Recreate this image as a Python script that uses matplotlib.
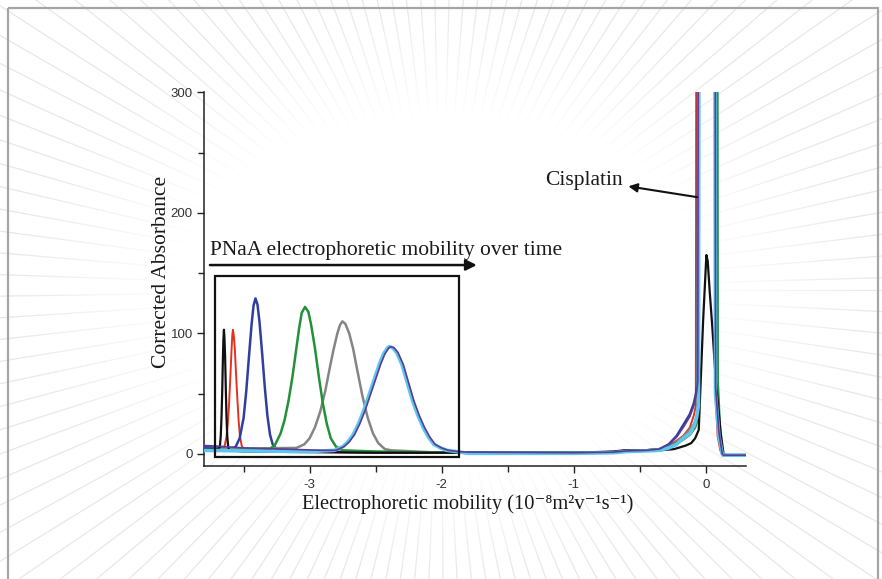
import numpy as np
import matplotlib
matplotlib.use("Agg")
import matplotlib.pyplot as plt
from matplotlib.patches import Rectangle

# ---------------- data ----------------
black_x = [-3.80, -3.72, -3.69, -3.68, -3.673, -3.667, -3.662, -3.657, -3.653, -3.649, -3.645, -3.640,
           -3.635, -3.630, -3.624, -3.617, -3.61, -3.50,
           -3.00, -2.50, -2.00, -1.50, -1.00, -0.70, -0.62, -0.50, -0.35, -0.24, -0.15, -0.11,
           -0.08, -0.053, -0.04, -0.02, 0.005, 0.015, 0.03, 0.05, 0.076, 0.10, 0.114, 0.135, 0.16, 0.305]
black_y = [4, 4, 4, 6, 15, 32, 52, 78, 95, 103, 96, 80,
           55, 32, 15, 6, 3, 2,
           1.5, 1, 1, 1, 1, 2, 3, 3, 3, 4, 7, 9,
           13, 20, 55, 110, 165, 160, 135, 105, 61, 33, 17, 0, -1, -1]

red_x = [-3.80, -3.70, -3.66, -3.645, -3.63, -3.62, -3.61, -3.60, -3.592, -3.586, -3.581, -3.575,
         -3.567, -3.558, -3.548, -3.538, -3.528, -3.515, -3.50, -3.48,
         -3.20, -2.50, -2.00, -1.00, -0.70, -0.60, -0.45, -0.35, -0.28, -0.22, -0.17,
         -0.12, -0.09, -0.075, -0.072, 0.070, 0.074, 0.09, 0.11, 0.13, 0.305]
red_y = [5, 4, 3, 6, 14, 25, 42, 65, 85, 98, 103, 99,
         88, 68, 47, 28, 15, 7, 4, 3,
         2, 1, 1, 1, 1.5, 2.5, 3, 4, 7, 11, 15,
         22, 32, 40, 330, 330, 50, 15, 3, -1, -1]

blue_x = [-3.80, -3.70, -3.60, -3.56, -3.53, -3.50, -3.48, -3.46, -3.44, -3.425, -3.41, -3.395,
          -3.38, -3.36, -3.34, -3.32, -3.30, -3.28, -3.25, -3.22,
          -3.00, -2.50, -2.00, -1.00, -0.70, -0.60, -0.45, -0.35, -0.28, -0.22, -0.17,
          -0.12, -0.09, -0.07, -0.062, -0.058, 0.073, 0.076, 0.10, 0.125, 0.135, 0.305]
blue_y = [6, 5, 4, 6, 13, 30, 52, 80, 107, 123, 129, 124,
          110, 84, 56, 32, 16, 8, 4, 3,
          2, 1.5, 1, 1, 1.5, 2.5, 3, 4, 8, 15, 24,
          33, 42, 52, 62, 330, 330, 60, 20, 0, -1, -1]

green_x = [-3.80, -3.60, -3.30, -3.26, -3.22, -3.19, -3.16, -3.13, -3.10, -3.08, -3.06, -3.035,
           -3.01, -2.99, -2.96, -2.93, -2.90, -2.87, -2.84, -2.80, -2.75,
           -2.50, -2.00, -1.00, -0.70, -0.60, -0.45, -0.35, -0.28, -0.22,
           -0.17, -0.12, -0.08, -0.058, -0.055, 0.088, 0.091, 0.11, 0.13, 0.305]
green_y = [3, 3, 4, 8, 17, 28, 44, 64, 88, 104, 117, 122,
           118, 108, 88, 64, 42, 25, 13, 6, 3,
           2, 1, 1, 1.5, 2.5, 3, 4, 6, 9,
           12, 16, 22, 30, 330, 330, 60, 15, -1, -1]

gray_x = [-3.80, -3.50, -3.10, -3.04, -3.00, -2.96, -2.92, -2.88, -2.85, -2.82, -2.79, -2.77,
          -2.752, -2.73, -2.70, -2.67, -2.64, -2.60, -2.56, -2.52, -2.48, -2.43, -2.38,
          -2.00, -1.00, -0.70, -0.60, -0.45, -0.35,
          -0.28, -0.22, -0.17, -0.12, -0.08, -0.058, -0.055, 0.080, 0.083, 0.11, 0.13, 0.305]
gray_y = [4, 4.5, 5, 8, 13, 22, 35, 53, 70, 86, 100, 107,
          110, 108, 100, 87, 70, 48, 30, 17, 9, 4, 3,
          1, 1, 1.5, 2.5, 3, 4,
          6, 10, 14, 20, 26, 34, 330, 330, 50, 12, -1, -1]

purple_x = [-3.80, -3.70, -3.50, -3.20, -2.90, -2.80, -2.74, -2.70, -2.66, -2.62, -2.58, -2.54,
            -2.50, -2.46, -2.43, -2.40, -2.386, -2.36, -2.33, -2.29, -2.25, -2.21, -2.17, -2.13,
            -2.09, -2.05, -2.00, -1.95, -1.88, -1.80, -1.00, -0.70,
            -0.60, -0.45, -0.35, -0.28, -0.22, -0.17, -0.12, -0.09, -0.07, -0.06, -0.057,
            0.072, 0.075, 0.10, 0.125, 0.135, 0.305]
purple_y = [7, 6.5, 5, 4, 3, 3, 6, 10, 16, 25, 36, 49,
            62, 75, 83, 88, 89, 88, 84, 74, 59, 44, 32, 22,
            14, 8, 5, 3, 2, 1.5, 1, 1.5,
            2.5, 3, 4, 8, 14, 22, 31, 40, 50, 60, 330,
            330, 55, 18, 0, -1, -1]

cyan_x = [-3.80, -3.50, -3.00, -2.81, -2.75, -2.71, -2.67, -2.63, -2.59, -2.55, -2.51, -2.47,
          -2.44, -2.41, -2.396, -2.37, -2.34, -2.30, -2.26, -2.22, -2.18, -2.14, -2.10, -2.06,
          -2.01, -1.96, -1.89, -1.80, -1.00, -0.70, -0.60, -0.45,
          -0.35, -0.28, -0.22, -0.17, -0.12, -0.09, -0.07, -0.055, -0.052,
          0.070, 0.074, 0.10, 0.125, 0.135, 0.305]
cyan_y = [3, 2.5, 2, 3, 6, 10, 16, 25, 36, 49, 62, 75,
          83, 88, 89, 88, 84, 74, 59, 44, 32, 22, 14, 8,
          5, 3, 2, 0.5, 0.5, 1, 2, 2.5,
          3, 5, 8, 13, 17, 23, 30, 40, 330,
          330, 50, 15, 0, -1, -1]

x_major = [-3, -2, -1, 0]
x_minor = [-3.5, -2.5, -1.5, -0.5]
y_major = [0, 100, 200, 300]
y_minor = [50, 150, 250]

title_text = "PNaA electrophoretic mobility over time"
cis_text = "Cisplatin"
xlabel_text = "Electrophoretic mobility (10\u207b\u2078m\u00b2v\u207b\u00b9s\u207b\u00b9)"
ylabel_text = "Corrected Absorbance"

# ---------------- figure ----------------
W, H = 882, 579
fig = plt.figure(figsize=(W / 100, H / 100), dpi=100)
fig.patch.set_facecolor('white')

# decorative background: faint rays fading toward the centre, grey frame
bg = fig.add_axes([0, 0, 1, 1], zorder=-10)
bg.axis('off')
cx, cy = 441, 290
for a in np.arange(0, 360, 2.8):
    t = np.deg2rad(a)
    bg.plot([cx, cx + 1200 * np.cos(t)], [cy, cy + 1200 * np.sin(t)],
            color='#e8e8e8', lw=0.9, solid_capstyle='butt')
yy, xx = np.mgrid[0:H, 0:W]
re = np.sqrt(((xx - cx) / 441.0) ** 2 + ((yy - cy) / 290.0) ** 2)
alpha = np.clip((1.0 - re) / 0.4, 0, 1)
over = np.ones((H, W, 4))
over[..., 3] = alpha
bg.imshow(over, extent=(0, W, H, 0), zorder=2, interpolation='bilinear')
bg.add_patch(Rectangle((8, 8), 870, 600, fill=False, edgecolor='#a5a5a5', lw=1.6, zorder=3))
bg.set_xlim(0, W)
bg.set_ylim(H, 0)

ax = fig.add_axes([204 / W, 1 - 466 / H, 542 / W, (466 - 92.3) / H])
ax.set_facecolor('none')

ax.plot(red_x, red_y, color='#e5321f', lw=1.4, zorder=3)
ax.plot(blue_x, blue_y, color='#2f3f9f', lw=1.8, zorder=3)
ax.plot(gray_x, gray_y, color='#858585', lw=1.8, zorder=3)
ax.plot(green_x, green_y, color='#23913a', lw=1.8, zorder=3)
ax.plot(black_x, black_y, color='#111111', lw=1.6, zorder=3)
ax.plot(cyan_x, cyan_y, color='#5ec6ee', lw=2.6, zorder=3)
ax.plot(purple_x, purple_y, color='#5a3d95', lw=1.2, zorder=3)

ax.set_xlim(-3.80, 0.305)
ax.set_ylim(-10, 300)

for s in ['top', 'right']:
    ax.spines[s].set_visible(False)
for s in ['left', 'bottom']:
    ax.spines[s].set_linewidth(1.1)
    ax.spines[s].set_color('#222222')

ax.set_xticks(x_major)
ax.set_xticks(x_minor, minor=True)
ax.set_yticks(y_major)
ax.set_yticks(y_minor, minor=True)
ax.set_xticklabels([str(v) for v in x_major])
ax.set_yticklabels([str(v) for v in y_major])
ax.tick_params(which='both', direction='out', color='#222222', width=1.0,
               labelsize=9.5, labelcolor='#333333')
ax.tick_params(which='major', length=5)
ax.tick_params(which='minor', length=4)
ax.tick_params(axis='x', pad=4)
ax.tick_params(axis='y', pad=3)
for lab in ax.get_xticklabels() + ax.get_yticklabels():
    lab.set_family('Liberation Sans')

serif = ['Liberation Serif', 'DejaVu Serif']
ax.set_xlabel(xlabel_text, fontsize=14.8, family=serif, color='#1a1a1a')
ax.xaxis.label.set_va('center')
ax.xaxis.set_label_coords(0.487, -0.102)
ax.set_ylabel(ylabel_text, fontsize=15.5, family=serif, color='#1a1a1a')
ax.yaxis.label.set_va('center')
ax.yaxis.set_label_coords(-0.078, 0.519)

# boxed PNaA region and time arrow
ax.add_patch(Rectangle((-3.72, -2.3), -1.866 - (-3.72), 147.5 - (-2.3),
                       fill=False, edgecolor='#111111', lw=1.6, zorder=5, clip_on=False))
ax.annotate('', xy=(-1.734, 156.7), xytext=(-3.755, 156.7),
            arrowprops=dict(arrowstyle='-|>', lw=1.8, color='#111111',
                            mutation_scale=16, shrinkA=0, shrinkB=0), zorder=5)
ax.text(-3.755, 165, title_text, fontsize=15.5, family=serif, color='#1a1a1a',
        ha='left', va='baseline')

# cisplatin annotation
ax.annotate('', xy=(-0.586, 222), xytext=(-0.064, 213),
            arrowprops=dict(arrowstyle='-|>', lw=1.5, color='#111111',
                            mutation_scale=13, shrinkA=0, shrinkB=0), zorder=5)
ax.text(-0.63, 227, cis_text, fontsize=15.5, family=serif, color='#1a1a1a',
        ha='right', va='center')

fig.savefig('out.png', dpi=100)
